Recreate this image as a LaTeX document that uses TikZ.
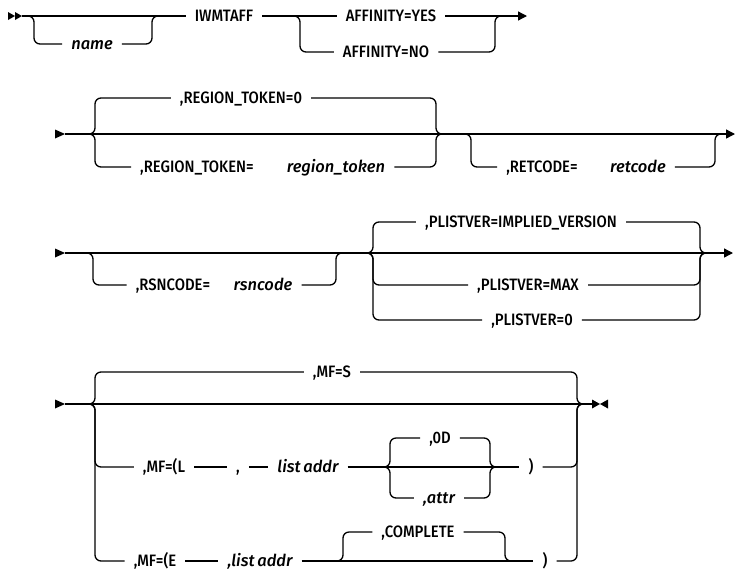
\documentclass[tikz,border=0pt]{standalone}
\usepackage{fontspec}
\setmainfont{Fira Sans}[UprightFont=* Medium, ItalicFont=* Medium Italic, UprightFeatures={FakeStretch=0.9}]
\usetikzlibrary{arrows.meta,calc}

\begin{document}
\begin{tikzpicture}[x=1pt, y=-1pt,
  rail/.style={line width=1.3pt, rounded corners=6pt},
  kw/.style={inner xsep=9pt, inner ysep=0pt, text height=11.5pt, text depth=0pt, font=\fontsize{16.5}{19}\selectfont},
  var/.style={kw, font=\fontsize{16.5}{19}\selectfont\itshape},
  tip/.style={-{Triangle[length=9pt,width=9pt]}}]
\useasboundingbox (0,0) rectangle (735,571);

% row 1
\coordinate (s1) at (22,16);
\coordinate (j11) at (34,16);
\coordinate (j12) at (152,16);
\coordinate (j13) at (300,16);
\coordinate (j14) at (495,16);
\coordinate (e1) at (527,16);
\node[var] (name) at (92,44) {name};
\node[kw] (iwm) at (224,16) {IWMTAFF};
\node[kw] (yes) at (391,16) {AFFINITY=YES};
\node[kw] (no) at (386,52) {AFFINITY=NO};
\fill (s1) -- ++(-7,-4) -- ++(0,8) -- cycle (s1) ++(-7,0) -- ++(-7,-4) -- ++(0,8) -- cycle;
\draw[rail] (s1) -- (iwm.west);
\draw[rail] (s1) -- (j11) |- (name.west);
\draw[rail] (name.east) -| (j12) -- ++(8,0);
\draw[rail] (iwm.east) -- (yes.west);
\draw[rail,tip] (yes.east) -- (e1);
\draw[rail] (iwm.east) -- (j13) |- (no.west);
\draw[rail] (no.east) -| (j14) -- ++(8,0);

% row 2
\coordinate (s2) at (65,134);
\coordinate (j21) at (95,134);
\coordinate (j22) at (436,134);
\coordinate (j23) at (471,134);
\coordinate (j24) at (715,134);
\coordinate (e2) at (735,134);
\node[kw] (rt0) at (241,98) {,REGION\_TOKEN=0};
\node[kw] (rtk) at (197,167) {,REGION\_TOKEN=};
\node[var] (rtv) at (336,167) {region\_token};
\node[kw] (rck) at (542,167) {,RETCODE=};
\node[var] (rcv) at (638,167) {retcode};
\fill (s2) -- ++(-10,-4.5) -- ++(0,9) -- cycle;
\draw[rail,tip] (s2) -- (e2);
\draw[rail] (s2) -- (j21) |- (rt0.west);
\draw[rail] (rt0.east) -| (j22) -- ++(8,0);
\draw[rail] (s2) -- (j21) |- (rtk.west);
\draw[rail] (rtv.east) -| (j22) -- ++(8,0);
\draw[rail] (j22) -- (j23) |- (rck.west);
\draw[rail] (rcv.east) -| (j24) -- ++(8,0);

% row 3
\coordinate (s3) at (65,253);
\coordinate (j31) at (93,253);
\coordinate (j32) at (336,253);
\coordinate (j33) at (373,253);
\coordinate (j34) at (700,253);
\coordinate (e3) at (733,253);
\node[kw] (rsk) at (173,285) {,RSNCODE=};
\node[var] (rsv) at (263,285) {rsncode};
\node[kw] (piv) at (521,222) {,PLISTVER=IMPLIED\_VERSION};
\node[kw] (pmx) at (528,285) {,PLISTVER=MAX};
\node[kw] (p0) at (532,320) {,PLISTVER=0};
\fill (s3) -- ++(-10,-4.5) -- ++(0,9) -- cycle;
\draw[rail,tip] (s3) -- (e3);
\draw[rail] (s3) -- (j31) |- (rsk.west);
\draw[rail] (rsv.east) -| (j32) -- ++(8,0);
\draw[rail] (j32) -- (j33) |- (piv.west);
\draw[rail] (piv.east) -| (j34) -- ++(8,0);
\draw[rail] (j32) -- (j33) |- (pmx.west);
\draw[rail] (pmx.east) -| (j34) -- ++(8,0);
\draw[rail] (j32) -- (j33) |- (p0.west);
\draw[rail] (p0.east) -| (j34) -- ++(8,0);

% row 4
\coordinate (s4) at (65,404);
\coordinate (j41) at (95,404);
\coordinate (j42) at (577,404);
\coordinate (e4) at (592,404);
\coordinate (j43) at (390,467);
\coordinate (j44) at (490,467);
\coordinate (j45) at (343,561);
\coordinate (j46) at (505,561);
\node[kw] (mfs) at (332,372) {,MF=S};
\node[kw] (mfl) at (164,467) {,MF=(L};
\node[kw] (cm) at (238,467) {,};
\node[var] (la) at (308,467) {list\,addr};
\node[kw] (od) at (440,438) {,0D};
\node[var] (at) at (439,498) {,attr};
\node[kw] (rp1) at (531,467) {)};
\node[kw] (mfe) at (155,561) {,MF=(E};
\node[var] (le) at (260,561) {,list\,addr};
\node[kw] (cpl) at (418,532) {,COMPLETE};
\node[kw] (rp2) at (545,561) {)};
\fill (s4) -- ++(-10,-4.5) -- ++(0,9) -- cycle;
\draw[rail] (s4) -- (e4);
\fill (e4) -- ++(0,-4.5) -- ++(8,4.5) -- ++(-8,4.5) -- cycle (e4) ++(16,0) -- ++(0,-4.5) -- ++(-8,4.5) -- ++(8,4.5) -- cycle;
\draw[rail] (s4) -- (j41) |- (mfs.west);
\draw[rail] (mfs.east) -| (j42) -- ++(8,0);
\draw[rail] (s4) -- (j41) |- (mfl.west);
\draw[rail] (mfl.east) -- (cm.west);
\draw[rail] (cm.east) -- (la.west);
\draw[rail] (la.east) -- (rp1.west);
\draw[rail] ($(j43)+(-8,0)$) -- (j43) |- (od.west);
\draw[rail] (od.east) -| (j44) -- ++(8,0);
\draw[rail] ($(j43)+(-8,0)$) -- (j43) |- (at.west);
\draw[rail] (at.east) -| (j44) -- ++(8,0);
\draw[rail] (rp1.east) -| (j42) -- ++(8,0);
\draw[rail] (s4) -- (j41) |- (mfe.west);
\draw[rail] (mfe.east) -- (le.west);
\draw[rail] (le.east) -- (rp2.west);
\draw[rail] ($(j45)+(-8,0)$) -- (j45) |- (cpl.west);
\draw[rail] (cpl.east) -| (j46) -- ++(8,0);
\draw[rail] (rp2.east) -| (j42) -- ++(8,0);
\end{tikzpicture}
\end{document}
